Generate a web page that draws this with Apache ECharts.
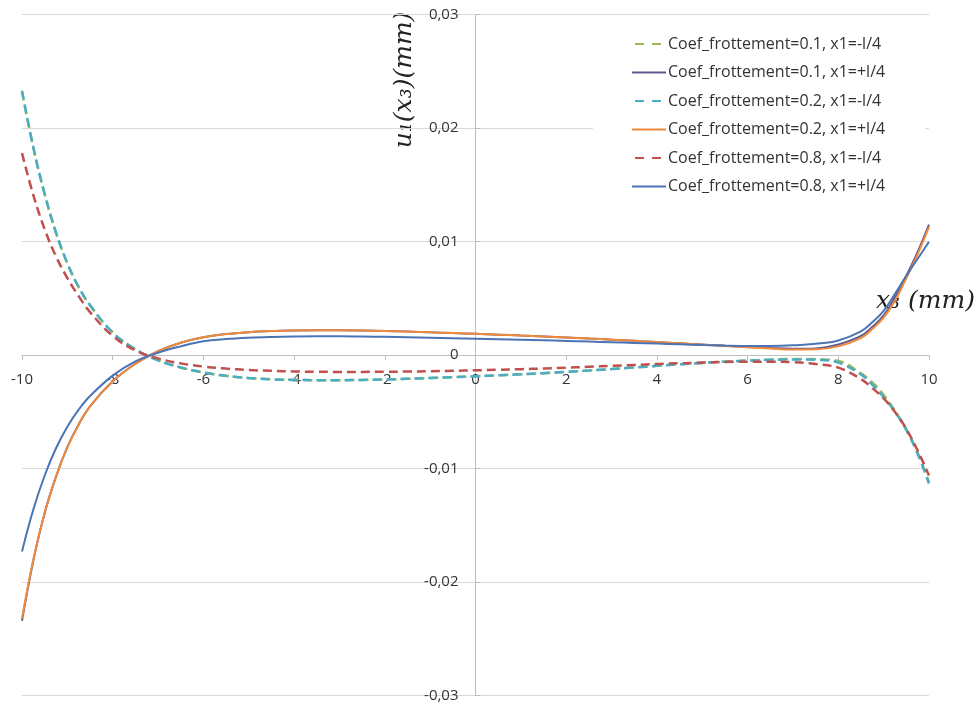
<!DOCTYPE html>
<html>
<head>
<meta charset="utf-8">
<script src="https://cdn.jsdelivr.net/npm/echarts@6/dist/echarts.min.js"></script>
<style>
html,body{margin:0;padding:0;background:#fff;}
#chart{width:975px;height:707px;}
</style>
</head>
<body>
<div id="chart"></div>
<script>
// x3 positions (mm)
var xs = [-10, -9.75, -9.5, -9.25, -9, -8.75, -8.5, -8, -7.5, -7, -6.5, -6, -5.5, -5, -4.5, -4, -3.5, -3, -2.5, -2, -1.5, -1, -0.5, 0, 0.5, 1, 1.5, 2, 2.5, 3, 3.5, 4, 4.5, 5, 5.5, 6, 6.5, 7, 7.5, 8, 8.5, 8.75, 9, 9.25, 9.5, 9.75, 10];

// Coef_frottement=0.1, x1=-l/4
var c01_minus = [0.0232, 0.0183, 0.0142, 0.0108, 0.0081, 0.0060, 0.0044, 0.0020, 0.00052, -0.00045, -0.00108, -0.00152, -0.00182, -0.00201, -0.00212, -0.00218, -0.0022, -0.0022, -0.00218, -0.00214, -0.00208, -0.00201, -0.00194, -0.00186, -0.00177, -0.00168, -0.00158, -0.00147, -0.00135, -0.00122, -0.00108, -0.00094, -0.0008, -0.00068, -0.00057, -0.00047, -0.00039, -0.00034, -0.00035, -0.0005, -0.0016, -0.0024, -0.0035, -0.0049, -0.0065, -0.0086, -0.0112];
// Coef_frottement=0.1, x1=+l/4
var c01_plus = [-0.0234, -0.0181, -0.0139, -0.0107, -0.0081, -0.0061, -0.0045, -0.0023, -0.00075, 0.00035, 0.0011, 0.00158, 0.00186, 0.00203, 0.00213, 0.00218, 0.0022, 0.0022, 0.00218, 0.00214, 0.00208, 0.00202, 0.00195, 0.00188, 0.00181, 0.00173, 0.00165, 0.00157, 0.00147, 0.00137, 0.00127, 0.00116, 0.00105, 0.00094, 0.00083, 0.00073, 0.00063, 0.00056, 0.0006, 0.00095, 0.0017, 0.0025, 0.0035, 0.0051, 0.0070, 0.0091, 0.0115];
// Coef_frottement=0.2, x1=-l/4
var c02_minus = [0.0233, 0.0183, 0.0142, 0.0108, 0.0081, 0.0060, 0.0044, 0.0020, 0.00052, -0.00045, -0.00108, -0.00152, -0.00182, -0.00201, -0.00212, -0.00218, -0.0022, -0.0022, -0.00218, -0.00214, -0.00208, -0.00201, -0.00194, -0.00186, -0.00177, -0.00168, -0.00158, -0.00147, -0.00135, -0.00122, -0.00108, -0.00094, -0.0008, -0.00068, -0.00057, -0.00048, -0.00041, -0.00037, -0.0004, -0.00065, -0.0017, -0.0026, -0.0037, -0.0050, -0.0066, -0.0087, -0.0113];
// Coef_frottement=0.2, x1=+l/4
var c02_plus = [-0.0232, -0.0180, -0.0139, -0.0107, -0.0081, -0.0061, -0.0045, -0.0023, -0.00075, 0.00035, 0.0011, 0.00158, 0.00186, 0.00203, 0.00213, 0.00218, 0.0022, 0.0022, 0.00218, 0.00214, 0.00208, 0.00202, 0.00195, 0.00188, 0.00181, 0.00173, 0.00165, 0.00157, 0.00147, 0.00137, 0.00127, 0.00116, 0.00105, 0.00093, 0.00081, 0.0007, 0.00058, 0.0005, 0.00052, 0.00078, 0.0015, 0.0023, 0.0033, 0.0048, 0.0068, 0.0089, 0.0113];
// Coef_frottement=0.8, x1=-l/4
var c08_minus = [0.0178, 0.0141, 0.0111, 0.0087, 0.0068, 0.0052, 0.0038, 0.0017, 0.00042, -0.00028, -0.00072, -0.001, -0.00118, -0.0013, -0.00138, -0.00143, -0.00146, -0.00147, -0.00147, -0.00146, -0.00144, -0.00141, -0.00137, -0.00133, -0.00128, -0.00123, -0.00117, -0.0011, -0.00102, -0.00094, -0.00086, -0.00078, -0.00071, -0.00065, -0.0006, -0.00058, -0.00058, -0.00062, -0.00078, -0.0011, -0.0021, -0.0029, -0.0038, -0.0050, -0.0065, -0.0084, -0.0106];
// Coef_frottement=0.8, x1=+l/4
var c08_plus = [-0.0173, -0.0136, -0.0106, -0.0082, -0.0063, -0.0048, -0.0036, -0.0018, -0.00055, 0.00022, 0.00078, 0.00122, 0.00142, 0.00154, 0.00161, 0.00165, 0.00167, 0.00167, 0.00165, 0.00162, 0.00158, 0.00154, 0.0015, 0.00146, 0.00141, 0.00136, 0.00131, 0.00126, 0.0012, 0.00114, 0.00108, 0.00102, 0.00096, 0.0009, 0.00085, 0.00082, 0.00082, 0.00087, 0.001, 0.0013, 0.0021, 0.0029, 0.0039, 0.0054, 0.0070, 0.0085, 0.0100];

var seriesNames = [
  'Coef_frottement=0.1, x1=-l/4',
  'Coef_frottement=0.1, x1=+l/4',
  'Coef_frottement=0.2, x1=-l/4',
  'Coef_frottement=0.2, x1=+l/4',
  'Coef_frottement=0.8, x1=-l/4',
  'Coef_frottement=0.8, x1=+l/4'
];
var seriesValues = [c01_minus, c01_plus, c02_minus, c02_plus, c08_minus, c08_plus];
var seriesColors = ['#9bbb59', '#5b5b8f', '#4bacc6', '#f08a3c', '#c0504d', '#4a74b4'];
var seriesDashed = [true, false, true, false, true, false];

var xTicks = [-10, -8, -6, -4, -2, 0, 2, 4, 6, 8, 10];

var FONT = "'Open Sans', 'Liberation Sans', sans-serif";
var MATH_FONT = "italic 25px 'DejaVu Serif', 'Liberation Serif', serif";

var GRID = {left: 22, right: 46, top: 14.7, bottom: 11.3};
var W = 975, H = 707;
var plotW = W - GRID.left - GRID.right;
var plotH = H - GRID.top - GRID.bottom;

var series = seriesNames.map(function (name, i) {
  return {
    name: name,
    type: 'line',
    data: xs.map(function (x, k) { return [x, seriesValues[i][k]]; }),
    smooth: 0.4,
    showSymbol: false,
    symbol: 'none',
    color: seriesColors[i],
    lineStyle: {
      color: seriesColors[i],
      width: seriesDashed[i] ? 2.5 : 2,
      type: seriesDashed[i] ? [9, 5] : 'solid'
    },
    z: 2 + i,
    animation: false
  };
});

var chart = echarts.init(document.getElementById('chart'), null, {renderer: 'canvas'});
chart.setOption({
  backgroundColor: '#ffffff',
  animation: false,
  grid: {left: GRID.left, right: GRID.right, top: GRID.top, bottom: GRID.bottom, containLabel: false, outerBoundsMode: 'none'},
  xAxis: {
    type: 'value',
    min: -10, max: 10, interval: 2,
    position: 'bottom',
    offset: -plotH / 2,
    axisLine: {onZero: false, lineStyle: {color: '#bfbfbf', width: 1}},
    axisTick: {show: true, length: 5, lineStyle: {color: '#bfbfbf'}},
    axisLabel: {
      margin: 17, color: '#333', fontSize: 15, fontFamily: FONT,
      formatter: function (v) { return xTicks.indexOf(v) >= 0 ? String(v) : ''; }
    },
    splitLine: {show: false}
  },
  yAxis: {
    type: 'value',
    min: -0.03, max: 0.03, interval: 0.01,
    position: 'left',
    offset: -plotW / 2,
    axisLine: {onZero: false, lineStyle: {color: '#bfbfbf', width: 1}},
    axisTick: {show: true, inside: true, length: 5, lineStyle: {color: '#bfbfbf'}},
    axisLabel: {
      margin: 17, color: '#333', fontSize: 15, fontFamily: FONT,
      formatter: function (v) {
        var r = Math.round(v * 100) / 100;
        if (r === 0) return '0';
        return r.toFixed(2).replace('.', ',');
      }
    },
    splitLine: {show: true, lineStyle: {color: '#d9d9d9', width: 1}}
  },
  legend: {
    orient: 'vertical',
    left: 593, top: 20,
    padding: [16, 40, 6, 38],
    backgroundColor: '#ffffff',
    itemWidth: 34, itemHeight: 14, itemGap: 12.5,
    itemStyle: {opacity: 0},
    textStyle: {fontSize: 16, color: '#333', fontFamily: FONT, padding: [0, 0, 0, -3]},
    data: seriesNames.map(function (n, i) {
      return seriesDashed[i] ? {name: n, lineStyle: {type: [9, 8], dashOffset: -3}} : {name: n};
    })
  },
  graphic: [
    {
      type: 'text', left: 876, top: 289,
      style: {text: 'x\u2083 (mm)', font: MATH_FONT, fill: '#222'}
    },
    {
      type: 'text', x: 404, y: 80, rotation: Math.PI / 2,
      style: {text: 'u\u2081(x\u2083)(mm)', font: MATH_FONT, fill: '#222', align: 'center', verticalAlign: 'middle'}
    }
  ],
  series: series
});
</script>
</body>
</html>
